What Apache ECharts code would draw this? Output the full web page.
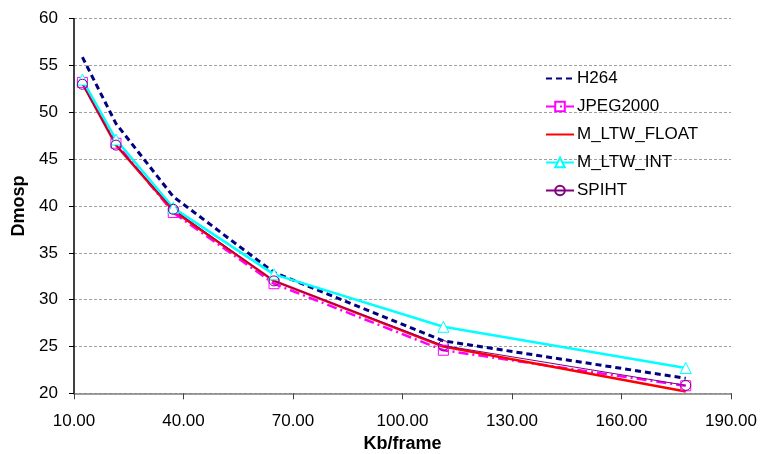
<!DOCTYPE html>
<html>
<head>
<meta charset="utf-8">
<script src="https://cdn.jsdelivr.net/npm/echarts@6/dist/echarts.min.js"></script>
<style>
  html, body { margin: 0; padding: 0; background: #fff; }
  #chart { width: 760px; height: 454px; }
</style>
</head>
<body>
<div id="chart"></div>
<script>
// Bitrate (Kb/frame) for each test point
const bitrate = [12.3, 21.5, 37.2, 64.8, 111.2, 177.6];

// Dmosp per codec
const h264      = [55.9, 48.8, 41.0, 32.9, 25.6, 21.6];
const jpeg2000  = [53.2, 46.7, 39.3, 31.7, 24.6, 20.8];
const ltwFloat  = [53.1, 46.5, 39.5, 32.0, 25.0, 20.2];
const ltwInt    = [53.5, 47.1, 39.8, 32.7, 27.1, 22.7];
const spiht     = [53.0, 46.5, 39.65, 32.0, 25.1, 20.85];

const seriesNames = ['H264', 'JPEG2000', 'M_LTW_FLOAT', 'M_LTW_INT', 'SPIHT'];

const pairs = vals => bitrate.map((x, i) => [x, vals[i]]);

const chart = echarts.init(document.getElementById('chart'));
const font = 'Liberation Sans, Arial, sans-serif';

// Legend entries; lines drawn without markers keep a bare line icon
const noMarker = ['H264', 'M_LTW_FLOAT'];
const legendData = seriesNames.map(n =>
  noMarker.includes(n) ? { name: n, itemStyle: { opacity: 0 } } : { name: n });

chart.setOption({
  animation: false,
  backgroundColor: '#fff',
  textStyle: { fontFamily: font },
  grid: { left: 74, right: 29, top: 18.7, bottom: 60.7, containLabel: false, outerBoundsMode: 'none' },
  legend: {
    orient: 'vertical',
    left: 540,
    top: 65,
    itemWidth: 28,
    itemHeight: 12,
    itemGap: 11,
    data: legendData,
    textStyle: { fontFamily: font, fontSize: 17, color: '#000', padding: [0, 0, 0, -2] }
  },
  xAxis: {
    type: 'value',
    min: 10, max: 190, interval: 30,
    name: 'Kb/frame',
    nameLocation: 'middle',
    nameGap: 40,
    nameTextStyle: { fontFamily: font, fontSize: 18, fontWeight: 'bold', color: '#000' },
    axisLine: { lineStyle: { color: '#808080', width: 1.5 } },
    axisTick: { show: true, length: 6, lineStyle: { color: '#404040' } },
    axisLabel: { fontSize: 17, color: '#000', margin: 20, formatter: v => v.toFixed(2) },
    splitLine: { show: false }
  },
  yAxis: {
    type: 'value',
    min: 20, max: 60, interval: 5,
    name: 'Dmosp',
    nameLocation: 'middle',
    nameGap: 44,
    nameTextStyle: { fontFamily: font, fontSize: 18, fontWeight: 'bold', color: '#000' },
    axisLine: { show: true, lineStyle: { color: '#000', width: 1.5 } },
    axisTick: { show: true, length: 5, lineStyle: { color: '#000' } },
    axisLabel: { fontSize: 17, color: '#000', margin: 16 },
    splitLine: { show: true, lineStyle: { color: '#a0a0a0', type: [3, 2], width: 1 } }
  },
  series: [
    {
      name: 'H264', type: 'line', data: pairs(h264),
      showSymbol: false, symbol: 'none',
      lineStyle: { color: '#000080', width: 3, type: [6, 4] },
      itemStyle: { color: '#000080' }
    },
    {
      name: 'JPEG2000', type: 'line', data: pairs(jpeg2000),
      symbol: 'rect', symbolSize: 10,
      lineStyle: { color: '#ff00ff', width: 2.5, type: [10, 4, 2, 4] },
      itemStyle: { color: 'rgba(255,255,255,0)', borderColor: '#ff00ff', borderWidth: 1 }
    },
    {
      name: 'M_LTW_FLOAT', type: 'line', data: pairs(ltwFloat),
      showSymbol: false, symbol: 'none',
      lineStyle: { color: '#ff0000', width: 2.5 },
      itemStyle: { color: '#ff0000' }
    },
    {
      name: 'M_LTW_INT', type: 'line', data: pairs(ltwInt),
      symbol: 'triangle', symbolSize: 11,
      lineStyle: { color: '#00ffff', width: 2.5 },
      itemStyle: { color: '#fff', borderColor: '#00ffff', borderWidth: 1 }
    },
    {
      name: 'SPIHT', type: 'line', data: pairs(spiht),
      symbol: 'circle', symbolSize: 10,
      lineStyle: { color: '#800080', width: 1 },
      itemStyle: { color: 'rgba(255,255,255,0)', borderColor: '#800080', borderWidth: 1 }
    }
  ]
});
</script>
</body>
</html>
